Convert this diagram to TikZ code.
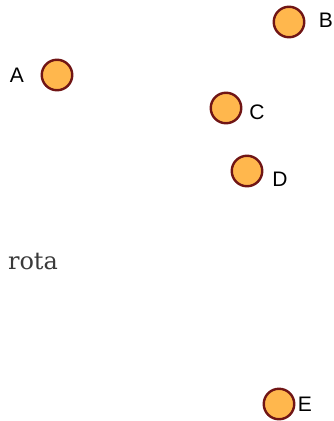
\documentclass[tikz,border=0pt]{standalone}
\usepackage{fontspec}
\setmainfont{Liberation Sans}
\newfontfamily\rotafont{DejaVu Serif}
\definecolor{dotfill}{HTML}{FFB74D}
\definecolor{dotline}{HTML}{701515}
\definecolor{txtgray}{HTML}{3A3A3A}
\begin{document}
\begin{tikzpicture}[x=1pt,y=-1pt,
  pt/.style={circle,draw=dotline,fill=dotfill,line width=2.4pt,minimum size=30.5pt,inner sep=0pt},
  lab/.style={font=\fontsize{21}{21}\selectfont,text=black,inner sep=0pt}]
\useasboundingbox (0,0) rectangle (334,421);
\node[pt] (A) at (57,75) {};
\node[pt] (B) at (289,22) {};
\node[pt] (C) at (226,108) {};
\node[pt] (D) at (247,171) {};
\node[pt] (E) at (279,404) {};
\node[lab] (lA) at (17,75) {A};
\node[lab] (lB) at (326,20) {B};
\node[lab] (lC) at (257,112) {C};
\node[lab] (lD) at (280,179) {D};
\node[lab] (lE) at (305,404) {E};
\node[font=\rotafont\fontsize{24}{24}\selectfont,text=txtgray,inner sep=0pt] (rota) at (33,262) {rota};
\end{tikzpicture}
\end{document}
